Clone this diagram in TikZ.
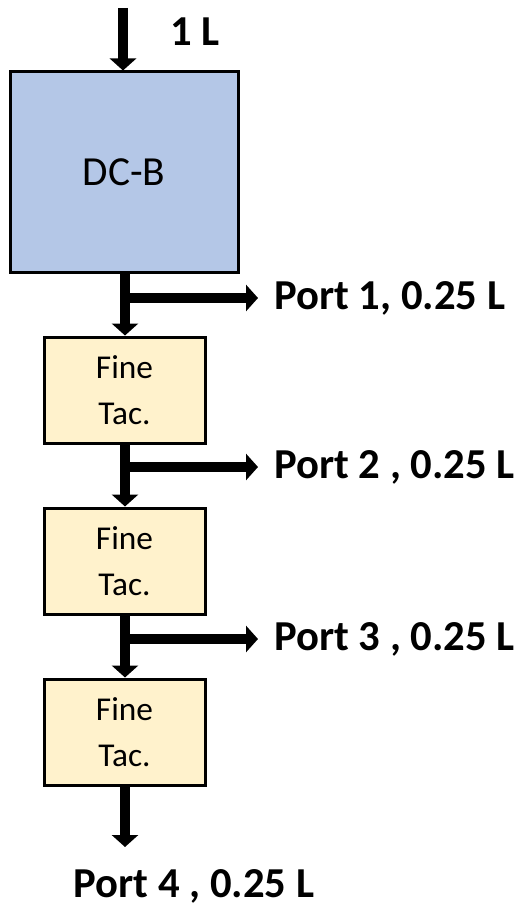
\documentclass[tikz,border=0pt]{standalone}
\usepackage{fontspec}
\setmainfont{Carlito}
\usetikzlibrary{arrows.meta}
\definecolor{dcblue}{HTML}{B4C7E7}
\definecolor{tacyellow}{HTML}{FFF2CC}
\tikzset{
  unit/.style={draw=black, line width=2.25pt, inner sep=0pt, align=center,
    font=\fontsize{25}{35}\selectfont},
  flow/.style={line width=8pt, -{Triangle[width=19.5pt,length=9pt]}},
  portlabel/.style={inner sep=0pt, anchor=west, font=\fontsize{32}{36}\selectfont\bfseries}
}
\begin{document}
\begin{tikzpicture}[x=0.75pt, y=-0.75pt]
  \useasboundingbox (0,0) rectangle (520,906);
  % process units
  \node[unit, fill=dcblue, minimum width=171pt, minimum height=150pt,
    font=\fontsize{31}{36}\selectfont] (dcb) at (124,172) {DC-B};
  \node[unit, fill=tacyellow, minimum width=120.75pt, minimum height=79.5pt] (ft1) at (124.5,390) {Fine\\Tac.};
  \node[unit, fill=tacyellow, minimum width=120.75pt, minimum height=79.5pt] (ft2) at (124.5,561) {Fine\\Tac.};
  \node[unit, fill=tacyellow, minimum width=120.75pt, minimum height=79.5pt] (ft3) at (124.5,732) {Fine\\Tac.};
  % inlet and outlet
  \coordinate (in) at (123,8);
  \coordinate (out) at (125,847);
  \node[portlabel] (lin) at (170,32) {1 L};
  \node[portlabel, anchor=center] (p4) at (194,886) {Port 4 , 0.25 L};
  % side ports
  \node[portlabel] (p1) at (274,298) {Port 1, 0.25 L};
  \node[portlabel] (p2) at (274,467) {Port 2 , 0.25 L};
  \node[portlabel] (p3) at (274,639) {Port 3 , 0.25 L};
  \coordinate (b1) at (125,298);
  \coordinate (b2) at (125,467);
  \coordinate (b3) at (125,639);
  % main stream
  \draw[flow] (in) -- (in |- dcb.north);
  \draw[flow] (b1 |- dcb.south) -- (b1 |- ft1.north);
  \draw[flow] (b2 |- ft1.south) -- (b2 |- ft2.north);
  \draw[flow] (b3 |- ft2.south) -- (b3 |- ft3.north);
  \draw[flow] (out |- ft3.south) -- (out);
  % branches to the ports
  \draw[flow] (b1) -- ([xshift=-12pt]p1.west);
  \draw[flow] (b2) -- ([xshift=-12pt]p2.west);
  \draw[flow] (b3) -- ([xshift=-12pt]p3.west);
\end{tikzpicture}
\end{document}
